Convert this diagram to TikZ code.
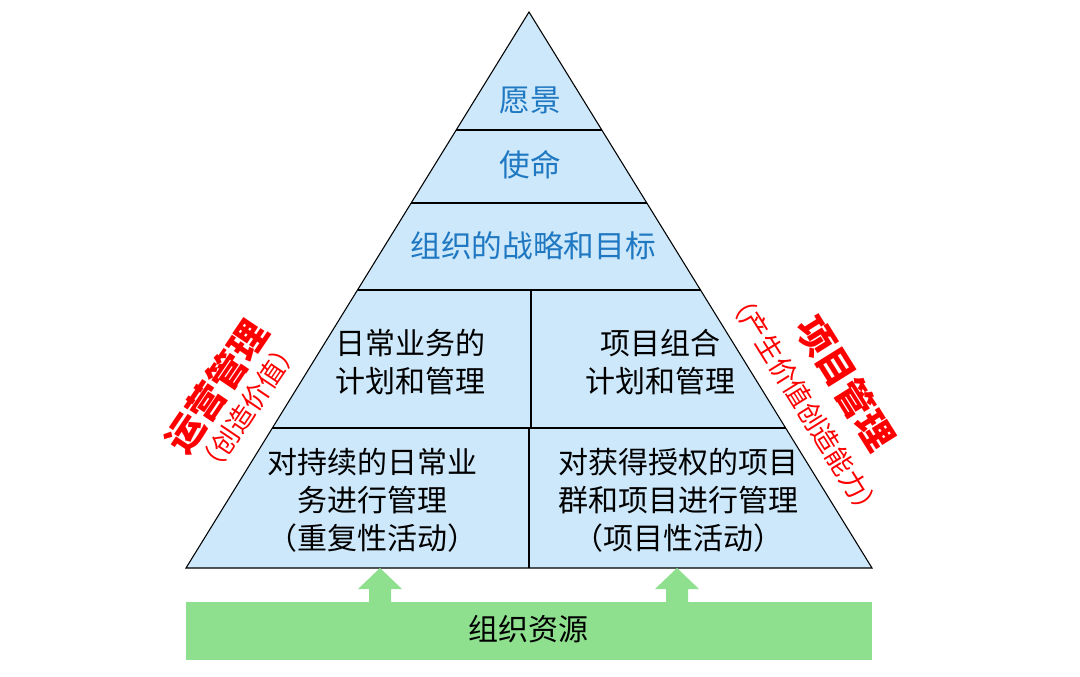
\documentclass[tikz,border=0pt]{standalone}
\usepackage{fontspec}
\newfontfamily\cjk{Noto Sans CJK SC}
\usetikzlibrary{calc}
\definecolor{tri}{HTML}{CCE8FA}
\definecolor{grn}{HTML}{8EE08E}
\definecolor{blu}{HTML}{1F78C1}
\tikzset{
  blk/.style={font=\cjk\fontsize{22.5}{28.5}\selectfont, align=center, text=black, inner sep=0pt},
  bl/.style={font=\cjk\fontsize{23}{28}\selectfont, text=blu, inner sep=0pt},
  side/.style={font=\cjk\bfseries\fontsize{28}{30}\selectfont, text=red, inner sep=0pt},
  sub/.style={font=\cjk\fontsize{20}{22}\selectfont, text=red, inner sep=0pt},
  ln/.style={draw=black, line width=0.8pt}
}
\begin{document}
\begin{tikzpicture}[x=0.75pt,y=-0.75pt]
\useasboundingbox (0,0) rectangle (1080,677);
\coordinate (A) at (529,12);
\coordinate (L) at (186,568);
\coordinate (R) at (872,568);
\filldraw[fill=tri, ln] (A) -- (L) -- (R) -- cycle;
\foreach \t/\n in {0.2122/a,0.3435/b,0.5/c,0.7482/d}{
  \draw[ln] ($(A)!\t!(L)$) coordinate (l\n) -- ($(A)!\t!(R)$) coordinate (r\n);
}
\coordinate (v1) at (531,290); \coordinate (v2) at (531,428);
\coordinate (v3) at (529,428); \coordinate (v4) at (529,568);
\draw[ln] (v1) -- (v2);
\draw[ln] (v3) -- (v4);
% green bar
\fill[grn] (186,602) rectangle (872,660);
\node[blk] (res) at (528,629) {组织资源};
\foreach \x/\n in {380/p,677/q}{
  \fill[grn] (\x-11,603) -- (\x-11,589) -- (\x-22,589) -- (\x,568) -- (\x+22,589) -- (\x+11,589) -- (\x+11,603) -- cycle;
}
\node[bl] (n1) at (530,100) {愿景};
\node[bl] (n2) at (530,165) {使命};
\node[bl] (n3) at (533,246) {组织的战略和目标};
\node[blk] (n4) at (410,362) {日常业务的\\计划和管理};
\node[blk] (n5) at (660,362) {项目组合\\计划和管理};
\node[blk] (n6) at (372,500) {对持续的日常业\\务进行管理\\（重复性活动）};
\node[blk] (n7) at (678,500) {对获得授权的项目\\群和项目进行管理\\（项目性活动）};
\node[side, rotate=56] (s1) at (217,387) {运营管理};
\node[sub, rotate=56] (s2) at (248,408) {（创造价值）};
\node[side, rotate=-58] (s3) at (846,383) {项目管理};
\node[sub, rotate=-58] (s4) at (805,405) {（产生价值创造能力）};
\end{tikzpicture}
\end{document}
